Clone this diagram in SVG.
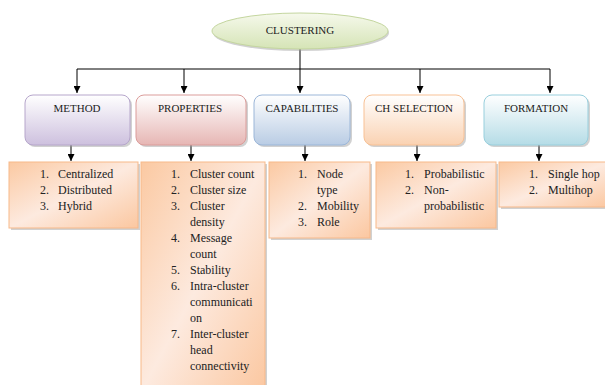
<svg xmlns="http://www.w3.org/2000/svg" width="605" height="385" viewBox="0 0 605 385">
<defs>
<linearGradient id="gEll" x1="0" y1="0" x2="0" y2="1"><stop offset="0" stop-color="#f6f9ec"/><stop offset="1" stop-color="#d5e4b6"/></linearGradient>
<linearGradient id="gM" x1="0" y1="0" x2="0" y2="1"><stop offset="0" stop-color="#ffffff"/><stop offset="1" stop-color="#cdc0de"/></linearGradient>
<linearGradient id="gP" x1="0" y1="0" x2="0" y2="1"><stop offset="0" stop-color="#ffffff"/><stop offset="1" stop-color="#e6b6b4"/></linearGradient>
<linearGradient id="gC" x1="0" y1="0" x2="0" y2="1"><stop offset="0" stop-color="#ffffff"/><stop offset="1" stop-color="#b9cce4"/></linearGradient>
<linearGradient id="gH" x1="0" y1="0" x2="0" y2="1"><stop offset="0" stop-color="#ffffff"/><stop offset="1" stop-color="#fad2b2"/></linearGradient>
<linearGradient id="gF" x1="0" y1="0" x2="0" y2="1"><stop offset="0" stop-color="#ffffff"/><stop offset="1" stop-color="#b5dce6"/></linearGradient>
<linearGradient id="gL" x1="0" y1="0" x2="1" y2="1"><stop offset="0" stop-color="#fbc9a2"/><stop offset="0.5" stop-color="#fdeadf"/><stop offset="1" stop-color="#fbc7a0"/></linearGradient>
<marker id="arr" viewBox="0 0 10 10" refX="10" refY="5" markerWidth="7" markerHeight="7" orient="auto" markerUnits="userSpaceOnUse"><path d="M0,0 L10,5 L0,10 z" fill="#000"/></marker>
</defs>
<style>
.hdr{font-family:"Liberation Serif","Times New Roman",serif;font-size:11px;fill:#222;text-anchor:middle}
.li{font-family:"Liberation Serif","Times New Roman",serif;font-size:12px;fill:#222}
.num{font-family:"Liberation Serif","Times New Roman",serif;font-size:12px;fill:#222;text-anchor:end}
.shadow{fill:#9a9a9a;opacity:0.45}
.list{fill:url(#gL);stroke:#f7b98a;stroke-width:1}
.con{stroke:#000;stroke-width:1;fill:none}
</style>
<rect width="605" height="385" fill="#ffffff"/>

<g id="connectors">
<path class="con" d="M300,48 V69"/>
<path class="con" d="M77,69 H550"/>
<path class="con" d="M77,69 V93" marker-end="url(#arr)"/>
<path class="con" d="M184,69 V93" marker-end="url(#arr)"/>
<path class="con" d="M300,69 V93" marker-end="url(#arr)"/>
<path class="con" d="M420,69 V93" marker-end="url(#arr)"/>
<path class="con" d="M550,69 V93" marker-end="url(#arr)"/>
<path class="con" d="M71,145 V161" marker-end="url(#arr)"/>
<path class="con" d="M191,145 V161" marker-end="url(#arr)"/>
<path class="con" d="M305,145 V161" marker-end="url(#arr)"/>
<path class="con" d="M417,145 V161" marker-end="url(#arr)"/>
<path class="con" d="M539,145 V161" marker-end="url(#arr)"/>
</g>

<g id="clustering">
<ellipse cx="301" cy="33" rx="88" ry="18" class="shadow"/>
<ellipse cx="300" cy="31" rx="88" ry="18" fill="url(#gEll)" stroke="#c4d69f" stroke-width="1"/>
<text class="hdr" x="300" y="34">CLUSTERING</text>
</g>

<g id="method">
<rect x="27" y="97" width="105" height="50" rx="8" class="shadow"/>
<rect x="25" y="95" width="105" height="50" rx="8" fill="url(#gM)" stroke="#b6a6cb"/>
<text class="hdr" x="77" y="112">METHOD</text>
</g>
<g id="properties">
<rect x="138" y="97" width="110" height="50" rx="8" class="shadow"/>
<rect x="136" y="95" width="110" height="50" rx="8" fill="url(#gP)" stroke="#db9c9a"/>
<text class="hdr" x="190" y="112">PROPERTIES</text>
</g>
<g id="capabilities">
<rect x="256" y="97" width="96" height="50" rx="8" class="shadow"/>
<rect x="254" y="95" width="96" height="50" rx="8" fill="url(#gC)" stroke="#9bb6d8"/>
<text class="hdr" x="302" y="112">CAPABILITIES</text>
</g>
<g id="chselection">
<rect x="366" y="97" width="100" height="50" rx="8" class="shadow"/>
<rect x="364" y="95" width="100" height="50" rx="8" fill="url(#gH)" stroke="#f8c195"/>
<text class="hdr" x="414" y="112">CH SELECTION</text>
</g>
<g id="formation">
<rect x="486" y="97" width="104" height="50" rx="8" class="shadow"/>
<rect x="484" y="95" width="104" height="50" rx="8" fill="url(#gF)" stroke="#98cfdd"/>
<text class="hdr" x="536" y="112">FORMATION</text>
</g>

<g id="method-list">
<rect x="11" y="164" width="129" height="66" class="shadow"/>
<rect x="9" y="162" width="129" height="66" class="list"/>
<text class="num" x="49" y="178">1.</text><text class="li" x="58" y="178">Centralized</text>
<text class="num" x="49" y="194">2.</text><text class="li" x="58" y="194">Distributed</text>
<text class="num" x="49" y="210">3.</text><text class="li" x="58" y="210">Hybrid</text>
</g>

<g id="properties-list">
<rect x="143" y="164" width="124" height="230" class="shadow"/>
<rect x="141" y="162" width="124" height="230" class="list"/>
<text class="num" x="180" y="178">1.</text><text class="li" x="190" y="178">Cluster count</text>
<text class="num" x="180" y="194">2.</text><text class="li" x="190" y="194">Cluster size</text>
<text class="num" x="180" y="210">3.</text><text class="li" x="190" y="210">Cluster</text>
<text class="li" x="190" y="226">density</text>
<text class="num" x="180" y="242">4.</text><text class="li" x="190" y="242">Message</text>
<text class="li" x="190" y="258">count</text>
<text class="num" x="180" y="274">5.</text><text class="li" x="190" y="274">Stability</text>
<text class="num" x="180" y="290">6.</text><text class="li" x="190" y="290">Intra-cluster</text>
<text class="li" x="190" y="306">communicati</text>
<text class="li" x="190" y="322">on</text>
<text class="num" x="180" y="338">7.</text><text class="li" x="190" y="338">Inter-cluster</text>
<text class="li" x="190" y="354">head</text>
<text class="li" x="190" y="370">connectivity</text>
</g>

<g id="capabilities-list">
<rect x="271" y="164" width="101" height="76" class="shadow"/>
<rect x="269" y="162" width="101" height="76" class="list"/>
<text class="num" x="307" y="178">1.</text><text class="li" x="317" y="178">Node</text>
<text class="li" x="317" y="194">type</text>
<text class="num" x="307" y="210">2.</text><text class="li" x="317" y="210">Mobility</text>
<text class="num" x="307" y="226">3.</text><text class="li" x="317" y="226">Role</text>
</g>

<g id="chselection-list">
<rect x="378" y="164" width="120" height="66" class="shadow"/>
<rect x="376" y="162" width="120" height="66" class="list"/>
<text class="num" x="414" y="178">1.</text><text class="li" x="424" y="178">Probabilistic</text>
<text class="num" x="414" y="194">2.</text><text class="li" x="424" y="194">Non-</text>
<text class="li" x="424" y="210">probabilistic</text>
</g>

<g id="formation-list">
<rect x="501" y="164" width="110" height="45" class="shadow"/>
<rect x="499" y="162" width="110" height="45" class="list"/>
<text class="num" x="538" y="178">1.</text><text class="li" x="548" y="178">Single hop</text>
<text class="num" x="538" y="194">2.</text><text class="li" x="548" y="194">Multihop</text>
</g>
</svg>
